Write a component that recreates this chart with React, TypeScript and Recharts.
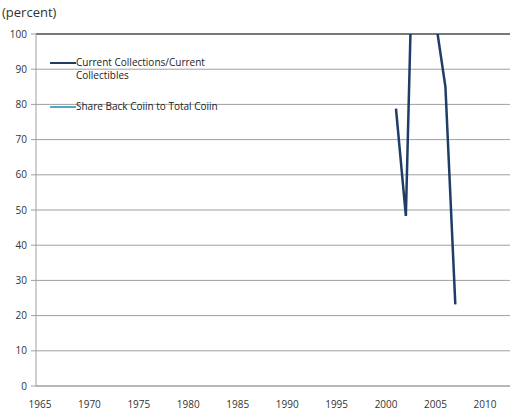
import { LineChart, Line, XAxis, YAxis, CartesianGrid, ReferenceLine } from "recharts"

const years = [2001, 2002, 2003, 2004, 2005, 2006, 2007]
const currentCollections = [78.8, 48.3, 160, 130, 104, 85, 23.2]
const shareBackCoin: (number | null)[] = [null, null, null, null, null, null, null]
const xTicks = [1965, 1970, 1975, 1980, 1985, 1990, 1995, 2000, 2005, 2010]
const yTicks = [0, 10, 20, 30, 40, 50, 60, 70, 80, 90, 100]

const seriesNames = ["Current Collections/Current Collectibles", "Share Back Coiin to Total Coiin"]
const seriesColors = ["#1f3d66", "#4bacc6"]

const chartData = years.map((year, i) => ({
  year,
  collections: currentCollections[i],
  shareBack: shareBackCoin[i],
}))

const font = "'Open Sans', 'DejaVu Sans', sans-serif"

// legend sits inside the plot, top-left, like the original
function LegendBox() {
  return (
    <div
      style={{
        position: "absolute",
        left: 50,
        top: 56,
        width: 200,
        fontFamily: font,
        fontSize: 10,
        color: "#222",
        lineHeight: "13px",
      }}
    >
      {seriesNames.map((name, i) => (
        <div key={name} style={{ display: "flex", alignItems: "flex-start", marginBottom: i === 0 ? 18 : 0 }}>
          <div style={{ width: 26, height: 2, background: seriesColors[i], marginTop: 6, flexShrink: 0 }} />
          <div style={{ width: 160 }}>{name}</div>
        </div>
      ))}
    </div>
  )
}

export default function App() {
  return (
    <div style={{ position: "absolute", left: 0, top: 0, width: 510, height: 416, background: "#fff" }}>
      <div style={{ position: "absolute", left: 2, top: 3, fontFamily: font, fontSize: 13, color: "#333" }}>
        (percent)
      </div>
      <LineChart width={510} height={416} data={chartData} margin={{ top: 34, right: 0, bottom: 0, left: 0 }}>
        <CartesianGrid horizontal vertical={false} stroke="#a0a0a0" />
        <XAxis
          dataKey="year"
          type="number"
          domain={[1964.6, 2012.53]}
          ticks={xTicks}
          allowDataOverflow
          height={30}
          axisLine={{ stroke: "#a0a0a0" }}
          tickLine={false}
          tick={{ fontSize: 10, fill: "#333", fontFamily: font }}
          tickMargin={9}
        />
        <YAxis
          type="number"
          domain={[0, 100]}
          ticks={yTicks}
          allowDataOverflow
          width={36}
          axisLine={{ stroke: "#a0a0a0" }}
          tickLine={{ stroke: "#a0a0a0" }}
          tickSize={5}
          tick={{ fontSize: 10, fill: "#333", fontFamily: font }}
          tickMargin={4}
        />
        <ReferenceLine y={100} stroke="#222" />
        <Line
          type="linear"
          dataKey="collections"
          name={seriesNames[0]}
          stroke={seriesColors[0]}
          strokeWidth={2.5}
          dot={false}
          isAnimationActive={false}
        />
        <Line
          type="linear"
          dataKey="shareBack"
          name={seriesNames[1]}
          stroke={seriesColors[1]}
          strokeWidth={2}
          dot={false}
          isAnimationActive={false}
        />
      </LineChart>
      <LegendBox />
    </div>
  )
}
